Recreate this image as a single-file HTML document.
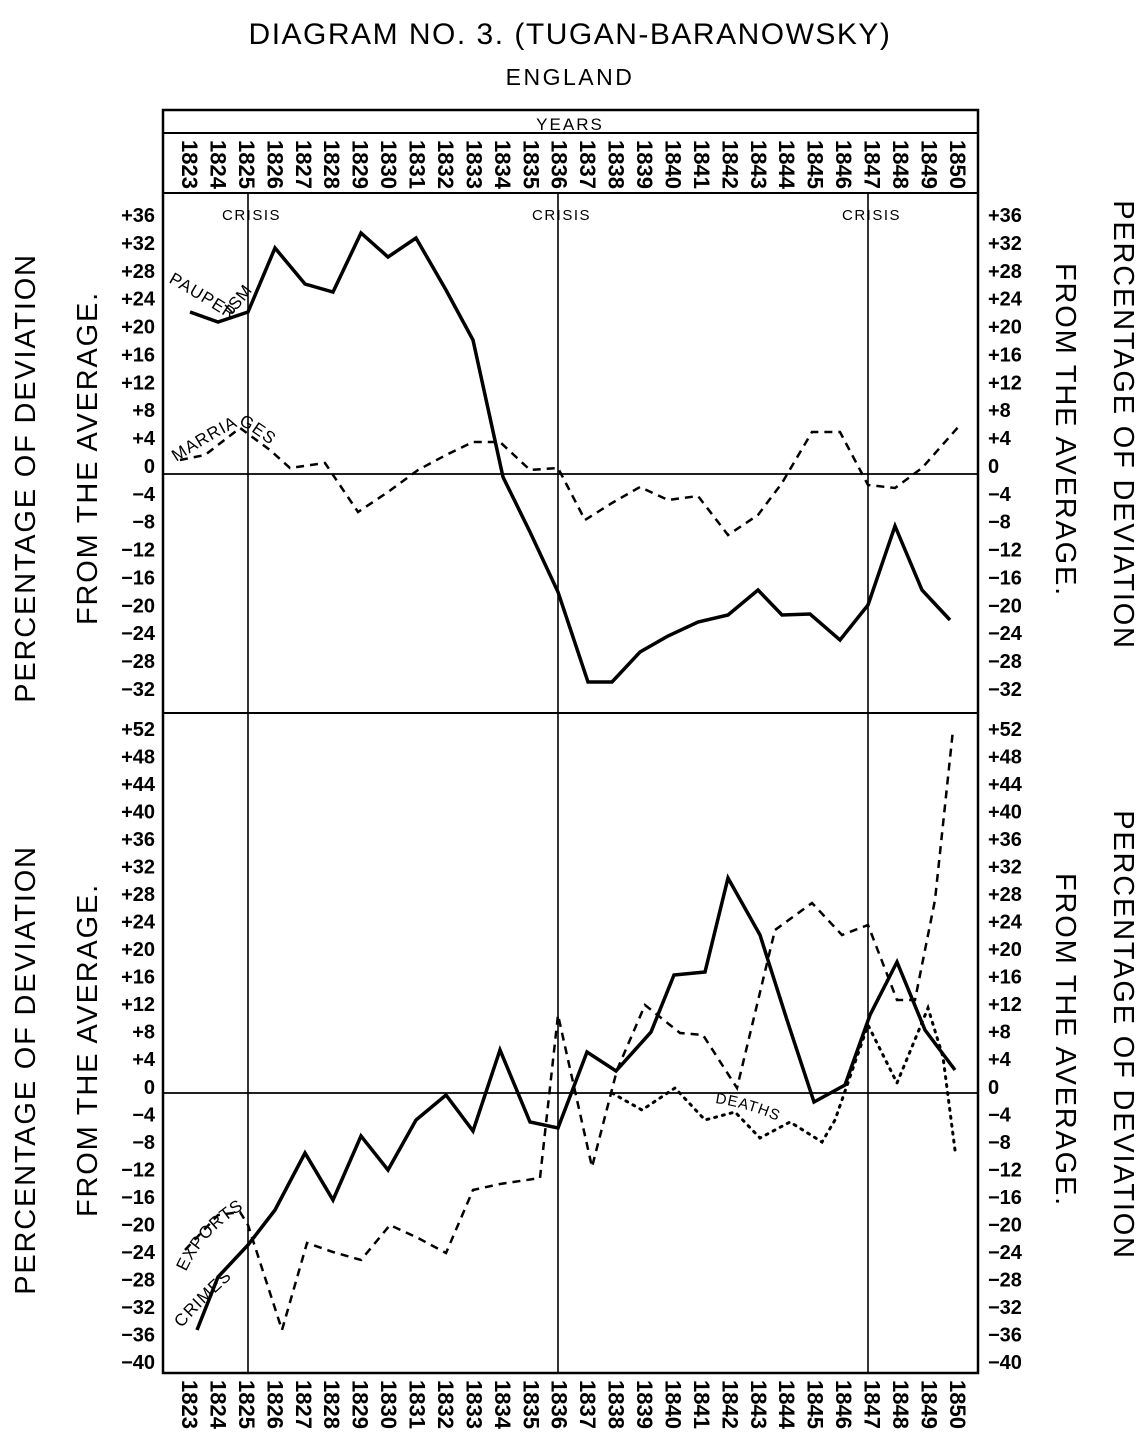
<!DOCTYPE html>
<html><head><meta charset="utf-8"><style>
html,body{margin:0;padding:0;background:#fff;}
svg{display:block;font-family:"Liberation Sans",sans-serif;}
</style></head><body>
<svg width="1147" height="1440" viewBox="0 0 1147 1440" xmlns="http://www.w3.org/2000/svg">
<rect width="1147" height="1440" fill="#fff"/>
<defs>
<path id="pp" d="M168,282 Q200,300 228,318 Q250,300 282,245"/>
<path id="mp" d="M176,462 Q210,440 240,425 Q270,440 300,475"/>
<path id="ep" d="M186,1272 Q205,1230 250,1205"/>
<path id="cp" d="M182,1328 Q205,1300 255,1258"/>
<path id="dp" d="M715,1103 Q750,1108 782,1123"/>
</defs>
<text x="570" y="44" text-anchor="middle" font-size="30" letter-spacing="1.5">DIAGRAM NO. 3. (TUGAN-BARANOWSKY)</text>
<text x="570" y="85" text-anchor="middle" font-size="23" letter-spacing="2.5">ENGLAND</text>
<g stroke="#000" fill="none">
<rect x="163" y="110" width="815" height="1263" stroke-width="2.5"/>
<line x1="163" y1="133" x2="978" y2="133" stroke-width="2"/>
<line x1="163" y1="193" x2="978" y2="193" stroke-width="2"/>
<line x1="163" y1="713" x2="978" y2="713" stroke-width="2"/>
<line x1="163" y1="474" x2="978" y2="474" stroke-width="1.8"/>
<line x1="163" y1="1093" x2="978" y2="1093" stroke-width="1.8"/>
<line x1="248" y1="193" x2="248" y2="1373" stroke-width="1.6"/>
<line x1="558" y1="193" x2="558" y2="1373" stroke-width="1.6"/>
<line x1="868" y1="193" x2="868" y2="1373" stroke-width="1.6"/>
</g>
<text x="570" y="130" text-anchor="middle" font-size="17" letter-spacing="2">YEARS</text>
<g id="yt" font-size="22" font-weight="bold"></g>
<g id="yb" font-size="22" font-weight="bold"></g>
<g font-size="15" letter-spacing="1.5">
<text x="222" y="220">CRISIS</text><text x="532" y="220">CRISIS</text><text x="842" y="220">CRISIS</text>
</g>
<g id="lt" font-size="20" font-weight="bold" text-anchor="end"></g>
<g id="rt" font-size="20" font-weight="bold" text-anchor="start"></g>
<g font-size="29" letter-spacing="1.8">
<text transform="translate(35,478) rotate(-90)" text-anchor="middle">PERCENTAGE OF DEVIATION</text>
<text transform="translate(97,458) rotate(-90)" text-anchor="middle">FROM THE AVERAGE.</text>
<text transform="translate(35,1070) rotate(-90)" text-anchor="middle">PERCENTAGE OF DEVIATION</text>
<text transform="translate(97,1050) rotate(-90)" text-anchor="middle">FROM THE AVERAGE.</text>
<text transform="translate(1114,425) rotate(90)" text-anchor="middle">PERCENTAGE OF DEVIATION</text>
<text transform="translate(1056,430) rotate(90)" text-anchor="middle">FROM THE AVERAGE.</text>
<text transform="translate(1114,1035) rotate(90)" text-anchor="middle">PERCENTAGE OF DEVIATION</text>
<text transform="translate(1056,1040) rotate(90)" text-anchor="middle">FROM THE AVERAGE.</text>
</g>
<g fill="none" stroke="#000" stroke-linejoin="miter">
<polyline stroke-width="3.5" points="190,312 218,322 248,312 275,248 305,284 333,292 361,233 388,257 416,238 446,290 473,340 503,477 530,532 558,592 588,682 612,682 640,652 668,636 698,622 728,615 758,590 782,615 810,614 840,640 868,605 895,526 922,590 950,620"/>
<polyline stroke-width="2.5" stroke-dasharray="8,6" points="180,460 205,455 240,428 270,450 290,468 325,463 358,512 388,492 418,470 446,455 473,442 500,442 530,470 558,468 585,520 612,503 640,487 668,500 698,496 728,535 758,515 782,483 812,432 840,432 868,485 895,488 922,468 960,425"/>
<polyline stroke-width="3.5" points="197,1330 218,1277 248,1245 275,1210 305,1153 333,1200 361,1136 388,1170 416,1120 446,1095 473,1131 500,1050 530,1122 558,1128 587,1052 616,1071 651,1032 674,975 705,972 728,878 760,935 787,1020 814,1102 845,1085 870,1015 897,962 925,1030 955,1070"/>
<polyline stroke-width="2.5" stroke-dasharray="8,6" points="185,1250 218,1215 240,1212 248,1225 282,1330 307,1243 333,1252 361,1260 390,1225 418,1238 446,1253 473,1190 500,1184 540,1178 558,1015 592,1167 617,1070 645,1005 680,1033 703,1035 737,1088 775,930 812,903 842,935 868,925 897,1000 915,1000 935,900 953,730"/>
<polyline stroke-width="3" stroke-dasharray="2,6" stroke-linecap="round" points="612,1093 642,1110 675,1088 705,1120 735,1112 760,1138 790,1122 822,1142 835,1120 868,1025 897,1083 928,1008 943,1057 955,1150"/>
</g>
<g font-size="17" letter-spacing="1">
<text><textPath href="#pp">PAUPERISM</textPath></text>
<text><textPath href="#mp">MARRIAGES</textPath></text>
<text font-size="15"><textPath href="#dp">DEATHS</textPath></text>
<text><textPath href="#ep">EXPORTS</textPath></text>
<text><textPath href="#cp">CRIMES</textPath></text>
</g>
<script>
(function(){
var ns="http://www.w3.org/2000/svg";
function t(g,x,y,s,tr){var e=document.createElementNS(ns,"text");e.setAttribute("x",x);e.setAttribute("y",y);if(tr)e.setAttribute("transform",tr);e.textContent=s;document.getElementById(g).appendChild(e);}
for(var i=0;i<28;i++){var x=190+i*28.44,y=1823+i;
t("yt",0,0,y,"translate("+(x-8)+",140) rotate(90)");
t("yb",0,0,y,"translate("+(x-8)+",1380) rotate(90)");}
for(var v=36;v>=-32;v-=4){var yy=222+(36-v)*6.97;var s=v>0?"+"+v:(v==0?"0":"\u2212"+(-v));
t("lt",155,yy,s);t("rt",988,yy,s);}
for(var v=52;v>=-40;v-=4){var yy=736+(52-v)*6.88;var s=v>0?"+"+v:(v==0?"0":"\u2212"+(-v));
t("lt",155,yy,s);t("rt",988,yy,s);}
})();
</script>
</svg>
</body></html>
